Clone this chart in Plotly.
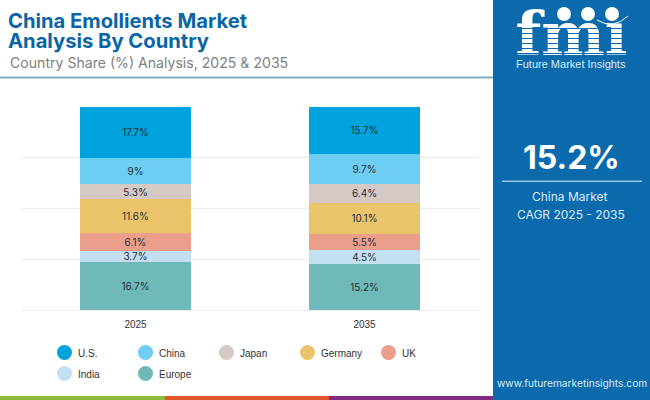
import plotly.graph_objects as go

YEARS = ["2025", "2035"]
US = [17.7, 15.7]
CHINA = [9, 9.7]
JAPAN = [5.3, 6.4]
GERMANY = [11.6, 10.1]
UK = [6.1, 5.5]
INDIA = [3.7, 4.5]
EUROPE = [16.7, 15.2]

NAMES = ["U.S.", "China", "Japan", "Germany", "UK", "India", "Europe"]
VALUES = [US, CHINA, JAPAN, GERMANY, UK, INDIA, EUROPE]
COLORS = ["#00a3dc", "#6dcdf3", "#d5c9c6", "#e9c46a", "#eb9f8b", "#c3e0f2", "#6fbab8"]

W, H = 650, 400
PANEL = "#0a6aab"
fig = go.Figure()

# stack bottom-up: Europe first
for name, vals, col in reversed(list(zip(NAMES, VALUES, COLORS))):
    fig.add_trace(go.Bar(
        x=YEARS, y=vals, name=name, marker=dict(color=col, line=dict(width=0)),
        text=[f"{v}%" for v in vals], textposition="inside", insidetextanchor="middle",
        textangle=0, constraintext="none",
        textfont=dict(family="Inter", size=10, color="#1f2d3a"),
        showlegend=False, hoverinfo="skip", xaxis="x", yaxis="y",
    ))

ann = []

# legend drawn on a page-sized pixel axis (two rows of five columns)
LEG_X0, LEG_DX, LEG_Y0, LEG_DY, LEG_COLS, LEG_TEXT = 64.5, 81, 352.5, 21, 5, 12.5
for i, (name, col) in enumerate(zip(NAMES, COLORS)):
    lx, ly = LEG_X0 + (i % LEG_COLS) * LEG_DX, LEG_Y0 + (i // LEG_COLS) * LEG_DY
    fig.add_trace(go.Scatter(
        x=[lx], y=[ly], mode="markers", name=name,
        marker=dict(symbol="circle", size=15, color=col, line=dict(width=0)),
        showlegend=False, hoverinfo="skip", xaxis="x2", yaxis="y2", cliponaxis=False,
    ))
    ann.append(dict(xref="x2", yref="y2", x=lx + LEG_TEXT, y=ly + 0.7, text=name, showarrow=False,
                    xanchor="left", yanchor="middle", borderpad=0,
                    font=dict(family="Liberation Sans", size=10, color="#333333")))

# logo wordmark as trace text, so the stripes can lie on top of it
fig.add_trace(go.Scatter(
    x=[571.5], y=[39.5], mode="text", text=["fmi"], textposition="middle center",
    textfont=dict(family="DejaVu Serif", size=60, color="white", weight="bold"),
    showlegend=False, hoverinfo="skip", xaxis="x2", yaxis="y2", cliponaxis=False,
))

def px(x): return x / W
def py(y): return 1 - y / H

shapes = []
def rect(x0, y0, x1, y1, color, layer="below"):
    shapes.append(dict(type="rect", xref="paper", yref="paper", x0=px(x0), x1=px(x1),
                       y0=py(y0), y1=py(y1), fillcolor=color, line_width=0, layer=layer))

def text(x, y, s, size, color, family="Inter", anchor="left", bold=False):
    ann.append(dict(xref="paper", yref="paper", x=px(x), y=py(y), text=f"<b>{s}</b>" if bold else s,
                    showarrow=False, xanchor=anchor, yanchor="middle", align=anchor,
                    font=dict(family=family, size=size, color=color), borderpad=0, borderwidth=0))

MARGIN_L, MARGIN_R, MARGIN_T, MARGIN_B = 21, 171, 106.5, 90

fig.update_layout(
    width=W, height=H, autosize=False,
    margin=dict(l=0, r=0, t=0, b=0, pad=0),
    paper_bgcolor="white", plot_bgcolor="rgba(0,0,0,0)",
    barmode="stack", barnorm="percent", bargap=0.515,
    font=dict(family="Liberation Sans", size=10, color="#333333"),
    xaxis=dict(domain=[px(MARGIN_L), px(W - MARGIN_R)], type="category", showgrid=False, showline=False,
               zeroline=False, ticks="", tickfont=dict(family="Liberation Sans", size=10, color="#333333"),
               categoryorder="array", categoryarray=YEARS, ticklabelstandoff=7),
    yaxis=dict(domain=[py(H - MARGIN_B), py(MARGIN_T)], range=[0, 100], dtick=25, showticklabels=False,
               showgrid=True, gridcolor="#ececec", gridwidth=1, zeroline=True, zerolinecolor="#ececec",
               zerolinewidth=1, ticks=""),
    xaxis2=dict(domain=[0, 1], range=[0, W], visible=False, anchor="y2", fixedrange=True),
    yaxis2=dict(domain=[0, 1], range=[H, 0], visible=False, anchor="x2", fixedrange=True),
    showlegend=False,
    hovermode=False,
)

# headings
text(8, 20, "China Emollients Market", 20.2, "#0a65a5", bold=True)
text(8, 40.5, "Analysis By Country", 20.2, "#0a65a5", bold=True)
text(9.5, 63, "Country Share (%) Analysis, 2025 &amp; 2035", 14.1, "#808080")
rect(0, 76.5, 493, 78.5, "#7fabc5")

# right panel and footer strip
rect(493, 0, 650, 400, PANEL)
rect(0, 396, 165, 400, "#8cba3e")
rect(165, 396, 329, 400, "#e0572a")
rect(329, 396, 493, 400, "#7f2b80")

# KPI
text(571.5, 157, "15.2%", 32, "white", anchor="center", bold=True)
rect(502, 180.5, 642, 182, "#9cc4e4")
text(570, 197, "China Market", 12, "#dcecf8", anchor="center")
text(571, 214, "CAGR 2025 - 2035", 12, "#dcecf8", anchor="center")

# logo stripes and emblems
for i in range(6):
    y = 28 + i * 5
    rect(512, y, 632, y + 1, PANEL, layer="above")
rect(600, 8, 622, 22, PANEL, layer="above")
for cx, cy in [(564, 14), (588, 14), (612, 14)]:
    shapes.append(dict(type="circle", xref="paper", yref="paper", x0=px(cx - 7), x1=px(cx + 7),
                       y0=py(cy + 7), y1=py(cy - 7), fillcolor="white", line_width=0, layer="above"))
shapes.append(dict(type="path", xref="x2", yref="y2", path="M 597 20 Q 613 30 628 16",
                   line=dict(color="white", width=1), layer="above"))
text(571, 64, "Future Market Insights", 11, "#dcecf8", family="Liberation Sans", anchor="center")
text(572, 383, "www.futuremarketinsights.com", 10.2, "#dcecf8", anchor="center")

fig.update_layout(shapes=shapes, annotations=ann)
fig.write_html("out.html", config=dict(displayModeBar=False, staticPlot=True),
               post_script="document.body.style.margin='0';document.body.style.overflow='hidden';")
